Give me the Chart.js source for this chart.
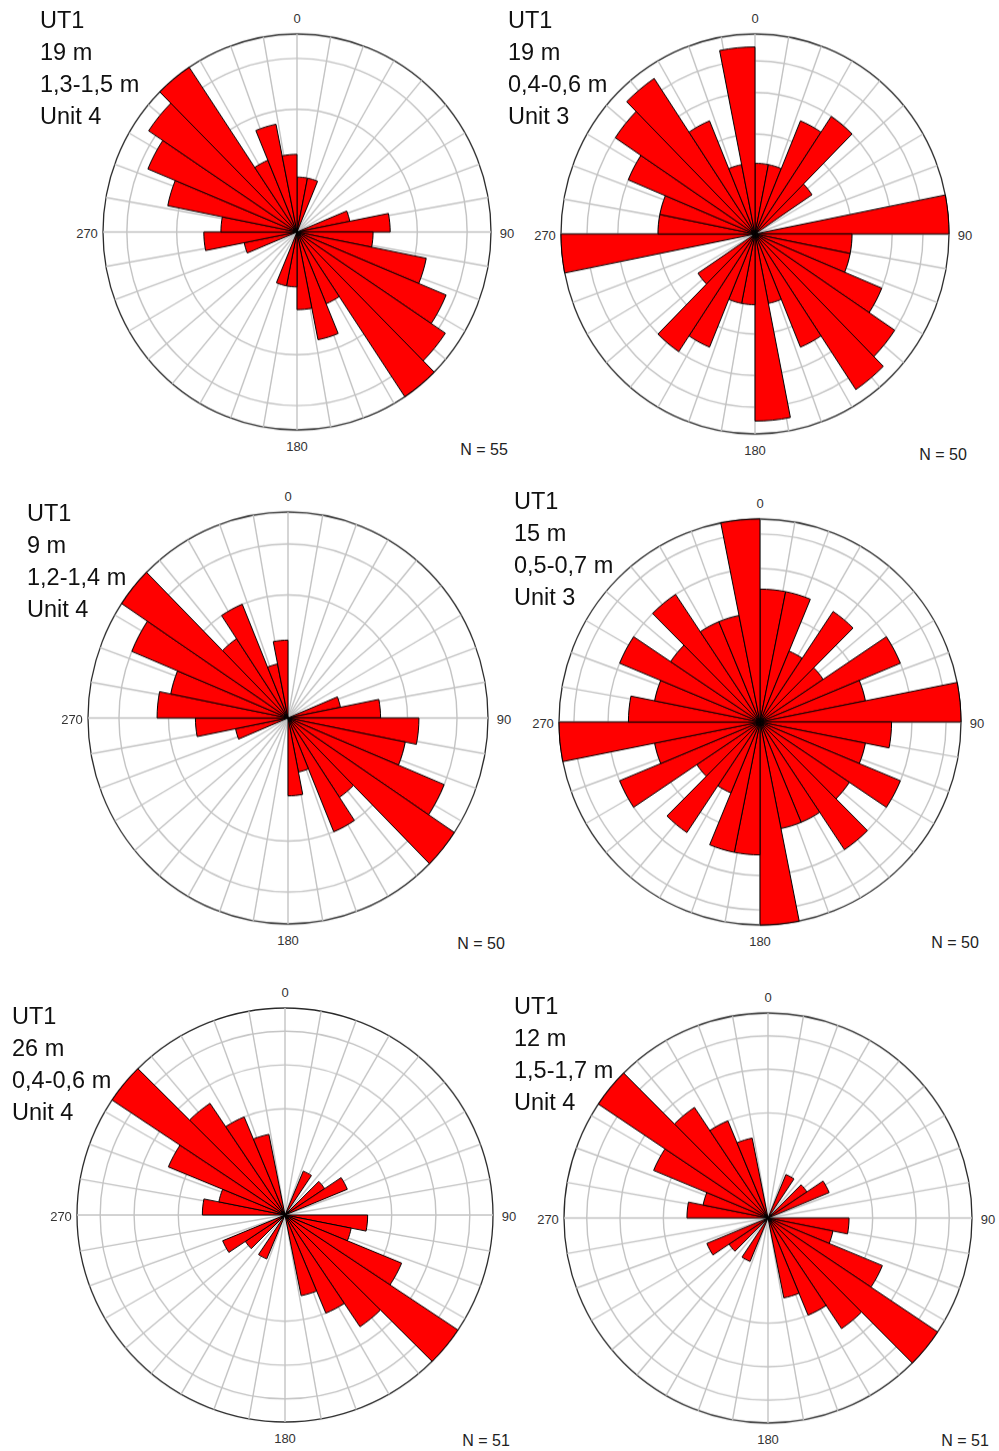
<!DOCTYPE html>
<html><head><meta charset="utf-8">
<script src="https://cdn.jsdelivr.net/npm/chart.js@4.4.0/dist/chart.umd.min.js"></script>
<style>
html,body{margin:0;padding:0;background:#fff;}
body{width:999px;height:1451px;position:relative;overflow:hidden;font-family:"Liberation Sans",Arial,sans-serif;}
.wrap{position:absolute;transform-origin:50% 50%;}
.wrap canvas{position:absolute;left:0;top:0;display:block;}
.t{position:absolute;font-size:23.5px;line-height:32px;color:#111;white-space:nowrap;}
.d{position:absolute;font-size:13px;color:#333;transform:translate(-50%,-50%);white-space:nowrap;}
.n{position:absolute;font-size:16px;color:#222;transform:translate(-50%,-50%);white-space:nowrap;}
</style></head><body>
<script>
// direction classes of the rose (32 classes of 11.25 deg, clockwise from north)
const binLabels = ['0-11.25','11.25-22.5','22.5-33.75','33.75-45','45-56.25','56.25-67.5','67.5-78.75','78.75-90',
  '90-101.25','101.25-112.5','112.5-123.75','123.75-135','135-146.25','146.25-157.5','157.5-168.75','168.75-180',
  '180-191.25','191.25-202.5','202.5-213.75','213.75-225','225-236.25','236.25-247.5','247.5-258.75','258.75-270',
  '270-281.25','281.25-292.5','292.5-303.75','303.75-315','315-326.25','326.25-337.5','337.5-348.75','348.75-360'];
// grid spokes every 10 deg
const spokeLabels = ['0','10','20','30','40','50','60','70','80','90','100','110','120','130','140','150','160','170',
  '180','190','200','210','220','230','240','250','260','270','280','290','300','310','320','330','340','350'];
const dirLabels = ['0','90','180','270'];

// counts per class (axial data, plotted in both directions)
const counts1 = [1,1,0,0,0,0,1,3,2,6,9,11,13,2,4,2, 1,1,0,0,0,0,1,3,2,6,9,11,13,2,4,2];
const counts2 = [1,1,3,4,1,0,0,8,2,2,4,6,7,3,1,7, 1,1,3,4,1,0,0,8,2,2,4,6,7,3,1,7];
const counts3 = [0,0,0,0,0,0,1,3,6,5,10,14,3,5,1,2, 0,0,0,0,0,0,1,3,6,5,10,14,3,5,1,2];
const counts4 = [3,3,1,3,1,4,2,7,3,2,4,2,4,2,2,7, 3,3,1,3,1,4,2,7,3,2,4,2,4,2,2,7];
const counts5 = [0,0,1,0,1,2,0,0,3,2,7,19,8,5,3,0, 0,0,1,0,1,2,0,0,3,2,7,19,8,5,3,0];
const counts6 = [0,0,1,0,1,2,0,0,3,2,7,19,8,5,3,0, 0,0,1,0,1,2,0,0,3,2,7,19,8,5,3,0];

// circle values (counts) and outer circle
const rings1 = [5,10], outer1 = 13;
const rings2 = [2,4,6], outer2 = 8;
const rings3 = [5,10], outer3 = 14;
const rings4 = [2,4,6], outer4 = 7;
const rings5 = [5,10,15], outer5 = 19;
const rings6 = [5,10,15], outer6 = 19;

const titles1 = ['UT1','19 m','1,3-1,5 m','Unit 4'];
const titles2 = ['UT1','19 m','0,4-0,6 m','Unit 3'];
const titles3 = ['UT1','9 m','1,2-1,4 m','Unit 4'];
const titles4 = ['UT1','15 m','0,5-0,7 m','Unit 3'];
const titles5 = ['UT1','26 m','0,4-0,6 m','Unit 4'];
const titles6 = ['UT1','12 m','1,5-1,7 m','Unit 4'];
const nLabels = ['N = 55','N = 50','N = 50','N = 50','N = 51','N = 51'];

// layout (page geometry)
const layout = [
  {cx:297, cy:232, rh:194, rv:198, tx:40, ty:4,   nx:484, ny:450},
  {cx:755, cy:234, rh:194, rv:200, tx:508, ty:4,  nx:943, ny:455},
  {cx:288, cy:718, rh:200, rv:206, tx:27, ty:497, nx:481, ny:944},
  {cx:760, cy:722, rh:201, rv:203, tx:514, ty:485, nx:955, ny:943},
  {cx:285, cy:1215, rh:208, rv:207, tx:12, ty:1000, nx:486, ny:1441},
  {cx:768, cy:1218, rh:204, rv:205, tx:514, ty:990, nx:965, ny:1441}
];

const charts = [
  {counts:counts1, rings:rings1, outer:outer1, titles:titles1},
  {counts:counts2, rings:rings2, outer:outer2, titles:titles2},
  {counts:counts3, rings:rings3, outer:outer3, titles:titles3},
  {counts:counts4, rings:rings4, outer:outer4, titles:titles4},
  {counts:counts5, rings:rings5, outer:outer5, titles:titles5},
  {counts:counts6, rings:rings6, outer:outer6, titles:titles6}
];

function addDiv(cls, x, y, html){
  const d = document.createElement('div');
  d.className = cls; d.style.left = x+'px'; d.style.top = y+'px'; d.innerHTML = html;
  document.body.appendChild(d); return d;
}
const GRID = '#c3c3c3';

charts.forEach((c, i) => {
  const L = layout[i];
  const pad = 3;
  const size = Math.round(2*(L.rh+pad));
  const wrap = document.createElement('div');
  wrap.className = 'wrap';
  wrap.style.left = (L.cx - size/2)+'px';
  wrap.style.top = (L.cy - size/2)+'px';
  wrap.style.width = size+'px'; wrap.style.height = size+'px';
  wrap.style.transform = 'scaleY('+(L.rv/L.rh)+')';
  const cvGrid = document.createElement('canvas');
  const cvRose = document.createElement('canvas');
  [cvGrid, cvRose].forEach(cv => { cv.width = size; cv.height = size; wrap.appendChild(cv); });
  document.body.appendChild(wrap);
  const tickVals = [0].concat(c.rings, [c.outer]);
  const rScale = (showGrid) => ({
    min:0, max:Math.sqrt(c.outer), startAngle:0,
    ticks:{display:false},
    pointLabels:{display:false},
    angleLines:{display:showGrid, color:GRID, lineWidth:1.4},
    grid:{display:showGrid, circular:true,
      color:ctx => ctx.index === tickVals.length-1 ? '#2a2a2a' : GRID,
      lineWidth:ctx => ctx.index === tickVals.length-1 ? 1.3 : 1.4},
    afterBuildTicks:s => { s.ticks = tickVals.map(v => ({value:Math.sqrt(v)})); }
  });
  const common = {responsive:false, animation:false, devicePixelRatio:1,
    layout:{padding:pad}, plugins:{legend:{display:false}, tooltip:{enabled:false}}};
  // background: circles and 10-degree spokes
  new Chart(cvGrid, {
    type:'polarArea',
    data:{labels:spokeLabels, datasets:[{data:spokeLabels.map(() => 0), borderWidth:0, backgroundColor:'rgba(0,0,0,0)'}]},
    options:Object.assign({}, common, {scales:{r:rScale(true)}})
  });
  // rose: equal-area scaling (radius ~ sqrt(count))
  new Chart(cvRose, {
    type:'polarArea',
    data:{labels:binLabels, datasets:[{
      data:c.counts.map(v => Math.sqrt(v)),
      backgroundColor:'#ff0000', borderColor:'#000000', borderWidth:1
    }]},
    options:Object.assign({}, common, {scales:{r:rScale(false)}})
  });
  addDiv('t', L.tx, L.ty, c.titles.join('<br>'));
  addDiv('d', L.cx, L.cy - L.rv - 16, dirLabels[0]);
  addDiv('d', L.cx + L.rh + 16, L.cy + 1, dirLabels[1]);
  addDiv('d', L.cx, L.cy + L.rv + 16, dirLabels[2]);
  addDiv('d', L.cx - L.rh - 16, L.cy + 1, dirLabels[3]);
  addDiv('n', L.nx, L.ny, nLabels[i]);
});
</script>
</body></html>
